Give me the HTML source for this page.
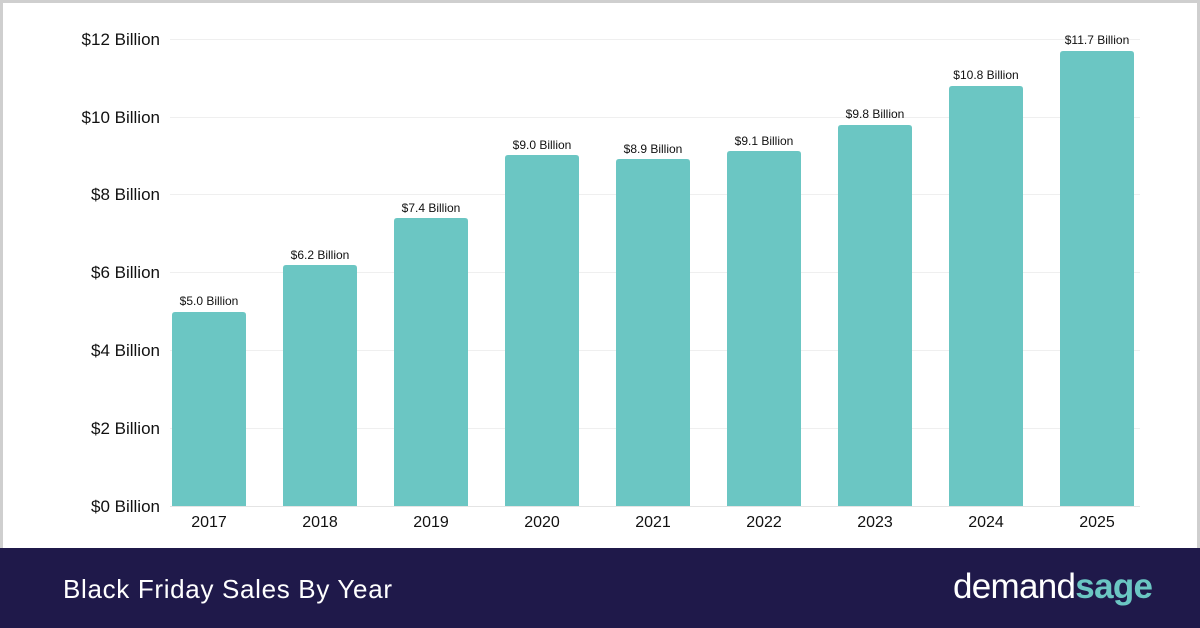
<!DOCTYPE html>
<html><head><meta charset="utf-8"><style>
html,body{margin:0;padding:0;background:#fff}
svg{display:block}
</style></head><body>
<svg width="1200" height="628" xmlns="http://www.w3.org/2000/svg" font-family="Liberation Sans, sans-serif">
<rect x="0" y="0" width="1200" height="628" fill="#cfcfcf"/>
<rect x="3" y="3" width="1194" height="545" fill="#fff"/>
<g stroke="#efefef" stroke-width="1">
<line x1="170" x2="1140" y1="39.5" y2="39.5"/>
<line x1="170" x2="1140" y1="117.5" y2="117.5"/>
<line x1="170" x2="1140" y1="194.5" y2="194.5"/>
<line x1="170" x2="1140" y1="272.5" y2="272.5"/>
<line x1="170" x2="1140" y1="350.5" y2="350.5"/>
<line x1="170" x2="1140" y1="428.5" y2="428.5"/>
<line x1="170" x2="1140" y1="506.5" y2="506.5" stroke="#e4e4e4"/>
</g>
<g font-size="17" fill="#111" text-anchor="end">
<text x="160" y="45">$12 Billion</text>
<text x="160" y="123">$10 Billion</text>
<text x="160" y="200">$8 Billion</text>
<text x="160" y="278">$6 Billion</text>
<text x="160" y="356">$4 Billion</text>
<text x="160" y="434">$2 Billion</text>
<text x="160" y="512">$0 Billion</text>
</g>
<g fill="#6bc6c3">
<path d="M172,506 V315 Q172,312 175,312 H243 Q246,312 246,315 V506Z"/>
<path d="M283,506 V268 Q283,265 286,265 H354 Q357,265 357,268 V506Z"/>
<path d="M394,506 V221 Q394,218 397,218 H465 Q468,218 468,221 V506Z"/>
<path d="M505,506 V158 Q505,155 508,155 H576 Q579,155 579,158 V506Z"/>
<path d="M616,506 V162 Q616,159 619,159 H687 Q690,159 690,162 V506Z"/>
<path d="M727,506 V154 Q727,151 730,151 H798 Q801,151 801,154 V506Z"/>
<path d="M838,506 V128 Q838,125 841,125 H909 Q912,125 912,128 V506Z"/>
<path d="M949,506 V89 Q949,86 952,86 H1020 Q1023,86 1023,89 V506Z"/>
<path d="M1060,506 V54 Q1060,51 1063,51 H1131 Q1134,51 1134,54 V506Z"/>
</g>
<g font-size="12" fill="#111" text-anchor="middle">
<text x="209" y="305">$5.0 Billion</text>
<text x="320" y="259">$6.2 Billion</text>
<text x="431" y="212">$7.4 Billion</text>
<text x="542" y="149">$9.0 Billion</text>
<text x="653" y="153">$8.9 Billion</text>
<text x="764" y="145">$9.1 Billion</text>
<text x="875" y="118">$9.8 Billion</text>
<text x="986" y="79">$10.8 Billion</text>
<text x="1097" y="44">$11.7 Billion</text>
</g>
<g font-size="16" fill="#111" text-anchor="middle">
<text x="209" y="527">2017</text>
<text x="320" y="527">2018</text>
<text x="431" y="527">2019</text>
<text x="542" y="527">2020</text>
<text x="653" y="527">2021</text>
<text x="764" y="527">2022</text>
<text x="875" y="527">2023</text>
<text x="986" y="527">2024</text>
<text x="1097" y="527">2025</text>
</g>
<rect x="0" y="548" width="1200" height="80" fill="#1f194a"/>
<text x="63" y="598" font-size="26" fill="#fff" textLength="329">Black Friday Sales By Year</text>
<text x="953" y="598" font-size="35" fill="#fff" textLength="200">demand<tspan fill="#6bc6c3" font-weight="bold">sage</tspan></text>
</svg>
</body></html>
